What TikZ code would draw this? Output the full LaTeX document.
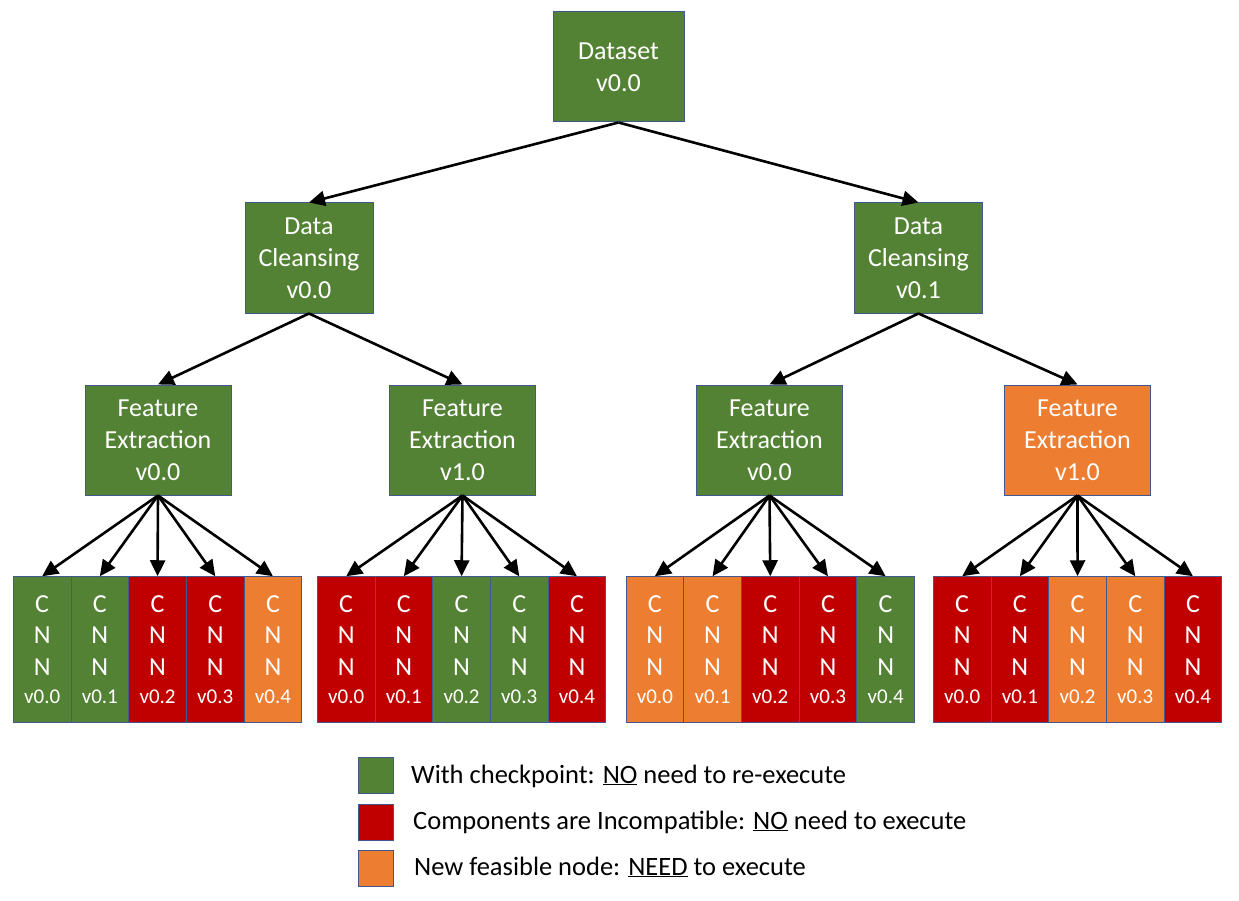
\documentclass[tikz,border=0pt]{standalone}
\usepackage{fontspec}
\setmainfont{Carlito}
\usetikzlibrary{arrows.meta}

\definecolor{cg}{HTML}{548235}
\definecolor{cr}{HTML}{C00000}
\definecolor{co}{HTML}{ED7D31}
\definecolor{edgeblue}{HTML}{41598F}

\begin{document}
\begin{tikzpicture}[x=1pt,y=-1pt,
  box/.style={draw=edgeblue,line width=1pt,text=white,align=center,inner sep=0pt,
    font=\fontsize{26}{32}\selectfont},
  bigbox/.style={box,minimum width=146pt,minimum height=110pt},
  cnnbox/.style={box,minimum width=57.7pt,minimum height=145.5pt,
    font=\fontsize{26}{31.5}\selectfont},
  legbox/.style={draw=edgeblue,line width=1pt,minimum width=35pt,minimum height=36pt,inner sep=0pt},
  legtext/.style={anchor=west,inner sep=0pt,font=\fontsize{26.5}{30}\selectfont},
  link/.style={-{Triangle[length=16pt,width=15pt]},line width=2.6pt}]
\useasboundingbox (0,0) rectangle (1239,901);
% -- define nodes
\node[bigbox,fill=cg,minimum width=131pt] (ds) at (618.5,67) {Dataset\\v0.0};
\node[bigbox,fill=cg,minimum width=128pt] (dc0) at (309,258) {Data\\Cleansing\\v0.0};
\node[bigbox,fill=cg,minimum width=128pt] (dc1) at (918.5,258) {Data\\Cleansing\\v0.1};
\node[bigbox,fill=cg] (fe1) at (158,440) {Feature\\Extraction\\v0.0};
\node[bigbox,fill=cg] (fe2) at (462.5,440) {Feature\\Extraction\\v1.0};
\node[bigbox,fill=cg] (fe3) at (769.5,440) {Feature\\Extraction\\v0.0};
\node[bigbox,fill=co] (fe4) at (1077.5,440) {Feature\\Extraction\\v1.0};
% -- draw upper links
\draw[link] (ds.south) -- (dc0.north);
\draw[link] (ds.south) -- (dc1.north);
\draw[link] (dc0.south) -- (fe1.north);
\draw[link] (dc0.south) -- (fe2.north);
\draw[link] (dc1.south) -- (fe3.north);
\draw[link] (dc1.south) -- (fe4.north);
% -- CNN boxes and links
\foreach \g/\gx/\cols in {1/13.3/{g,g,r,r,o},2/317.3/{r,r,g,g,r},3/626/{o,o,r,r,g},4/933.3/{r,r,o,o,r}}{
  \foreach \c [count=\i from 0] in \cols {
    \node[cnnbox,fill=c\c] (cnn\g\i) at ({\gx+28.85+\i*57.7},649.5)
      {C\\N\\N\\[-3pt]{\fontsize{21}{24}\selectfont v0.\i}};
    \draw[link] (fe\g.south) -- (cnn\g\i.north);
  }
}
% -- legend
\node[legbox,fill=cg] (leg1) at (375.5,775) {};
\node[legbox,fill=cr] (leg2) at (375.5,822) {};
\node[legbox,fill=co] (leg3) at (375.5,868) {};
\node[legtext] (lt1) at (411,776) {With checkpoint: \underline{NO} need to re-execute};
\node[legtext] (lt2) at (413,822) {Components are Incompatible: \underline{NO} need to execute};
\node[legtext] (lt3) at (414,867) {New feasible node: \underline{NEED} to execute};
\end{tikzpicture}
\end{document}
